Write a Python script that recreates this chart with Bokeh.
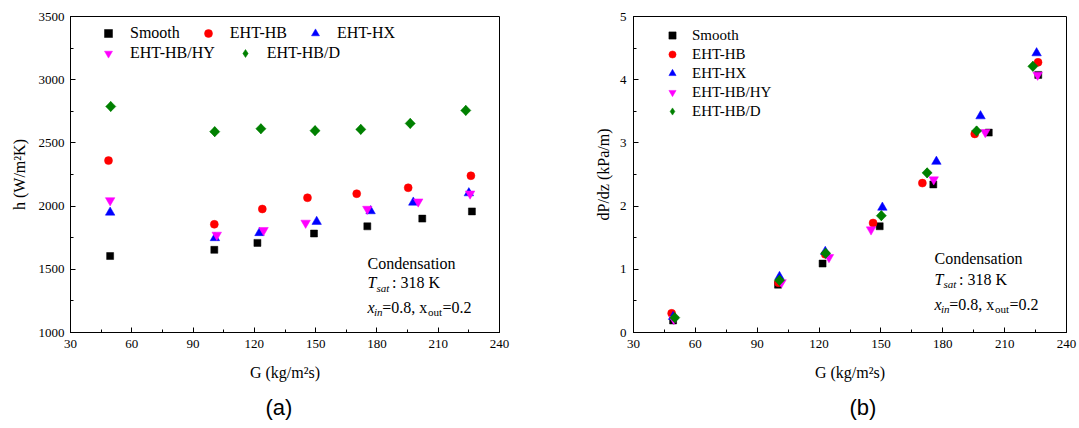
import math
from bokeh.plotting import figure
from bokeh.layouts import row
from bokeh.models import Range1d, SingleIntervalTicker, Legend, LegendItem, Label, Title
from bokeh.embed import file_html
from bokeh.resources import INLINE

# ---------------- data ----------------
series_names = ["Smooth", "EHT-HB", "EHT-HX", "EHT-HB/HY", "EHT-HB/D"]

# (a) heat transfer coefficient h (W/m2K) vs G (kg/m2s)
a_smooth_G = [49.4, 100.4, 121.5, 149.2, 175.3, 202.2, 226.5]
a_smooth_h = [1605, 1654, 1709, 1783, 1840, 1901, 1958]
a_hb_G = [48.6, 100.4, 123.9, 146.0, 170.1, 195.3, 226.0]
a_hb_h = [2360, 1856, 1977, 2066, 2098, 2145, 2240]
a_hx_G = [49.4, 100.7, 122.5, 150.5, 176.9, 197.8, 225.0]
a_hx_h = [1950, 1748, 1788, 1877, 1961, 2029, 2103]
a_hy_G = [49.4, 101.6, 124.5, 145.1, 175.3, 200.2, 225.6]
a_hy_h = [2045, 1772, 1809, 1867, 1977, 2035, 2098]
a_d_G = [49.7, 100.6, 123.2, 149.7, 172.1, 196.3, 223.5]
a_d_h = [2788, 2589, 2612, 2597, 2607, 2654, 2757]

# (b) pressure gradient dP/dz (kPa/m) vs G (kg/m2s)
b_smooth_G = [49.2, 100.1, 121.7, 149.4, 175.4, 202.3, 226.3]
b_smooth_dp = [0.19, 0.757, 1.091, 1.681, 2.343, 3.163, 4.076]
b_hb_G = [48.5, 100.3, 123.0, 146.2, 170.1, 195.5, 226.2]
b_hb_dp = [0.303, 0.788, 1.237, 1.733, 2.364, 3.142, 4.275]
b_hx_G = [49.2, 100.8, 123.0, 150.7, 176.9, 198.3, 225.5]
b_hx_dp = [0.25, 0.882, 1.279, 1.978, 2.704, 3.424, 4.421]
b_hy_G = [49.5, 101.8, 124.8, 145.2, 175.6, 200.6, 226.0]
b_hy_dp = [0.21, 0.793, 1.19, 1.628, 2.42, 3.168, 4.076]
b_d_G = [50.0, 100.8, 123.2, 150.2, 172.4, 196.4, 223.7]
b_d_dp = [0.235, 0.825, 1.253, 1.848, 2.526, 3.189, 4.212]

x_label = "G (kg/m²s)"
ya_label = "h (W/m²K)"
yb_label = "dP/dz (kPa/m)"

# ---------------- styles ----------------
colors = ["#000000", "#FF0000", "#0000FF", "#FF00FF", "#008000"]
markers = ["square", "circle", "triangle", "inverted_triangle", "square"]
sizes = [7, 8, 9.5, 9.5, 7.2]
angles = [0, 0, 0, 0, math.pi / 4]
SERIF = "Liberation Serif"
SANS = "Liberation Sans"


def style(p, y_interval):
    p.xgrid.visible = False
    p.ygrid.visible = False
    p.outline_line_color = "black"
    p.outline_line_width = 1
    p.xaxis.ticker = SingleIntervalTicker(interval=30, num_minor_ticks=2)
    p.yaxis.ticker = SingleIntervalTicker(interval=y_interval, num_minor_ticks=2)
    for ax in (p.xaxis[0], p.yaxis[0]):
        ax.major_tick_in = 5
        ax.major_tick_out = 0
        ax.minor_tick_in = 3
        ax.minor_tick_out = 0
        ax.axis_line_color = "black"
        ax.major_tick_line_color = "black"
        ax.minor_tick_line_color = "black"
        ax.major_label_text_font = SERIF
        ax.major_label_text_font_size = "13px"
        ax.major_label_text_color = "black"
        ax.axis_label_text_font = SERIF
        ax.axis_label_text_font_size = "16px"
        ax.axis_label_text_font_style = "normal"
        ax.axis_label_text_color = "black"
    p.xaxis.major_label_standoff = 7
    p.xaxis.axis_label_standoff = 13


def draw(p, xs, ys):
    rs = []
    leg_d = None
    for x, y, c, m, s, a in zip(xs, ys, colors, markers, sizes, angles):
        if a:
            # narrow diamond underneath the rotated squares, used as legend glyph
            leg_d = p.scatter(x, y, marker="diamond", size=10, fill_color=c,
                              line_color=c, line_width=0.5)
        rs.append(p.scatter(x, y, marker=m, size=s, angle=a,
                            fill_color=c, line_color=c, line_width=0.5))
    return rs, leg_d


def add_text(p, x, y, text, dx=0, dy=0, size="16px", font_style="normal"):
    p.add_layout(Label(x=x, y=y, x_offset=dx, y_offset=dy, text=text,
                       text_font=SERIF, text_font_size=size,
                       text_font_style=font_style, text_color="black",
                       text_baseline="alphabetic", text_align="left"))


def annotate(p, x0, ys):
    add_text(p, x0, ys[0], "Condensation")
    add_text(p, x0, ys[1], "T", font_style="italic")
    add_text(p, x0, ys[1], "sat", dx=9, dy=-5, size="11px", font_style="italic")
    add_text(p, x0, ys[1], ": 318 K", dx=24.5)
    add_text(p, x0, ys[2], "x", font_style="italic")
    add_text(p, x0, ys[2], "in", dx=6.5, dy=-5, size="11px", font_style="italic")
    add_text(p, x0, ys[2], "=0.8, x", dx=14.7)
    add_text(p, x0, ys[2], "out", dx=60.5, dy=-5, size="11px")
    add_text(p, x0, ys[2], "=0.2", dx=75)


def legend_kw(font_size):
    return dict(background_fill_alpha=0, border_line_alpha=0, padding=0, margin=0,
                glyph_width=20, label_text_font=SERIF,
                label_text_font_size=font_size, label_text_color="black")


def items(rs, leg_d, idx):
    out = []
    for i in idx:
        r = leg_d if i == 4 else rs[i]
        out.append(LegendItem(label=series_names[i], renderers=[r]))
    return out


def caption(p, text, offset):
    p.add_layout(Title(text=text, align="left", offset=offset, text_font=SANS,
                       text_font_size="22px", text_font_style="normal",
                       text_color="black", standoff=18), "below")


# ---------------- panel (a) ----------------
p1 = figure(width=566, height=428, x_range=Range1d(30, 240), y_range=Range1d(1000, 3500),
            output_backend="svg", toolbar_location=None,
            min_border_left=70, min_border_right=67, min_border_top=15, min_border_bottom=96,
            x_axis_label=x_label, y_axis_label=ya_label)
style(p1, 500)
p1.yaxis.major_label_standoff = 6
p1.yaxis.axis_label_standoff = 8
ra, lda = draw(p1, [a_smooth_G, a_hb_G, a_hx_G, a_hy_G, a_d_G],
               [a_smooth_h, a_hb_h, a_hx_h, a_hy_h, a_d_h])
leg1 = Legend(items=items(ra, lda, [0, 1, 2]),
              orientation="horizontal", location=(28, 289), spacing=18,
              label_standoff=12, glyph_height=20, label_height=20, **legend_kw("16px"))
leg2 = Legend(items=items(ra, lda, [3, 4]),
              orientation="horizontal", location=(28, 269), spacing=20,
              label_standoff=12, glyph_height=20, label_height=20, **legend_kw("16px"))
p1.add_layout(leg1, "center")
p1.add_layout(leg2, "center")
annotate(p1, 175.4, [1549.7, 1392, 1199.5])
caption(p1, "(a)", 195)

# ---------------- panel (b) ----------------
p2 = figure(width=513, height=428, x_range=Range1d(30, 240), y_range=Range1d(0, 5),
            output_backend="svg", toolbar_location=None,
            min_border_left=67, min_border_right=13, min_border_top=16, min_border_bottom=94,
            x_axis_label=x_label, y_axis_label=yb_label)
style(p2, 1)
p2.yaxis.major_label_standoff = 7
p2.yaxis.axis_label_standoff = 5
rb, ldb = draw(p2, [b_smooth_G, b_hb_G, b_hx_G, b_hy_G, b_d_G],
               [b_smooth_dp, b_hb_dp, b_hx_dp, b_hy_dp, b_d_dp])
leg3 = Legend(items=items(rb, ldb, [0, 1, 2, 3, 4]),
              orientation="vertical", location=(29, 212), spacing=1,
              label_standoff=10, glyph_height=18, label_height=18, **legend_kw("15px"))
p2.add_layout(leg3, "center")
annotate(p2, 176, [1.170, 0.845, 0.447])
caption(p2, "(b)", 216)

layout = row(p1, p2)
open("out.html", "w").write(file_html(layout, INLINE))
